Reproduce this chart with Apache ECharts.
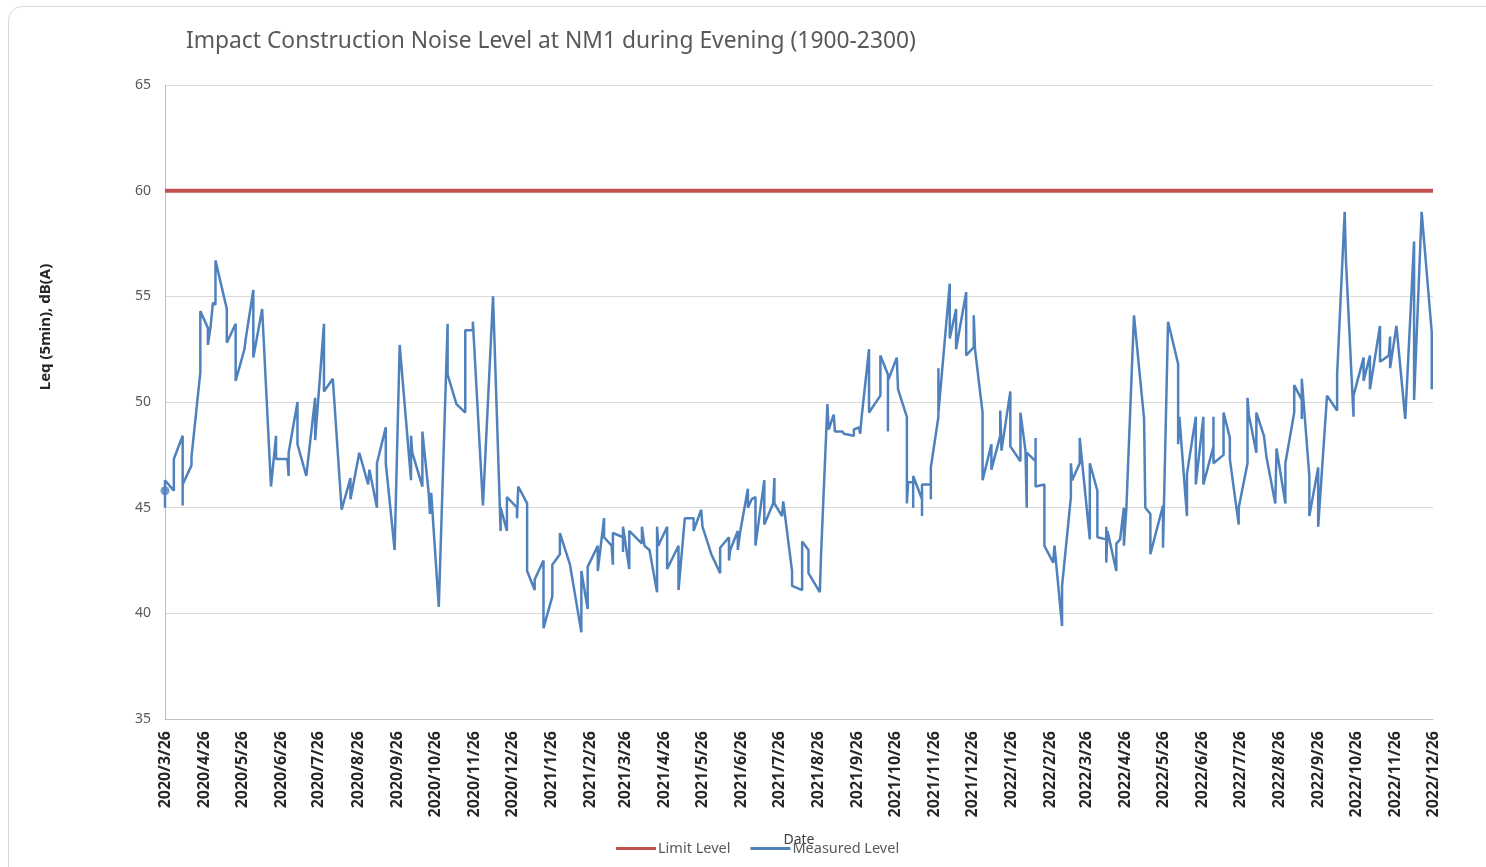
<!DOCTYPE html>
<html>
<head>
<meta charset="utf-8">
<script src="https://cdn.jsdelivr.net/npm/echarts@6/dist/echarts.min.js"></script>
<style>
  html, body { margin: 0; padding: 0; background: #fff; }
  #chart { width: 1486px; height: 867px; }
  #frame { position: absolute; left: 8px; top: 6px; width: 1500px; height: 900px;
           border: 1px solid #d9d9d9; border-radius: 14px; pointer-events: none; }
</style>
</head>
<body>
<div id="chart"></div>
<div id="frame"></div>
<script>
// start of monitoring, axis runs to 2022/12/26
var startDate = [2020, 3, 26];
var endDate = [2022, 12, 26];
var limitLevel = 60;
var days = [0,0,0,7,7,14,14,14,21,21,28,28,34,34,36,38,40,40,49,49,56,56,63,64,70,70,77,84,88,88,
  97,98,98,105,105,112,119,119,126,126,133,140,147,147,154,161,162,168,168,175,175,182,186,195,195,196,204,204,209,210,
  211,217,224,224,231,238,238,244,244,252,260,266,266,271,271,279,279,280,287,287,293,293,300,300,307,307,313,313,321,330,
  330,335,335,343,343,345,348,348,354,355,355,363,363,363,368,368,378,378,380,384,390,390,391,398,398,407,407,412,419,419,
  425,426,433,440,440,447,447,448,454,454,456,462,462,465,468,468,475,475,482,483,483,489,490,497,497,505,505,510,510,519,
  520,525,526,530,531,537,538,546,546,550,551,552,558,558,567,567,573,573,573,580,581,588,588,589,593,593,593,600,600,600,
  607,607,607,613,613,613,622,622,627,627,635,635,641,641,642,648,648,655,655,662,662,663,670,670,678,678,682,683,683,690,
  690,690,697,697,704,705,711,711,718,718,719,725,725,733,733,739,739,746,746,746,747,754,754,757,760,760,762,768,776,777,
  781,781,791,791,795,803,803,804,810,810,817,817,823,823,831,831,831,839,839,844,844,851,851,858,858,859,865,865,871,873,
  880,881,888,888,895,895,901,901,901,907,907,914,914,921,929,929,935,936,942,942,950,950,955,955,963,963,970,971,971,976,
  983,990,990,996,1004,1004];
var levels = [45.8,45.0,46.3,45.8,47.3,48.4,45.1,46.1,47.0,47.4,51.4,54.3,53.5,52.7,53.5,54.7,54.6,56.7,54.4,52.8,53.7,51.0,52.5,53.0,55.3,52.1,54.4,46.0,48.4,47.3,
  47.3,46.5,47.6,50.0,48.0,46.5,50.2,48.2,53.7,50.5,51.1,44.9,46.4,45.4,47.6,46.1,46.8,45.0,47.1,48.8,47.1,43.0,52.7,46.3,48.4,47.6,46.0,48.6,45.7,44.7,
  45.7,40.3,53.7,51.3,49.9,49.5,53.4,53.4,53.8,45.1,55.0,43.9,45.0,43.9,45.5,45.0,44.5,46.0,45.2,42.0,41.1,41.6,42.5,39.3,40.8,42.3,42.8,43.8,42.3,39.1,
  42.0,40.2,42.2,43.2,42.0,43.0,44.5,43.6,43.2,42.3,43.8,43.6,42.9,44.1,42.1,43.9,43.3,44.1,43.2,43.0,41.0,44.1,43.2,44.1,42.1,43.2,41.1,44.5,44.5,43.9,
  44.9,44.1,42.8,41.9,43.1,43.6,42.5,43.0,43.9,43.0,43.9,45.9,45.0,45.4,45.5,43.2,46.3,44.2,45.2,46.4,45.2,44.6,45.3,42.0,41.3,41.1,43.4,43.0,41.9,41.0,
  42.8,49.9,48.7,49.4,48.6,48.6,48.5,48.4,48.7,48.8,48.5,49.2,52.5,49.5,50.3,52.2,51.3,48.6,51.0,52.1,50.6,49.3,45.2,46.2,46.2,45.0,46.5,45.4,44.6,46.1,
  46.1,45.4,46.9,49.3,51.6,49.5,55.6,53.0,54.4,52.5,55.2,52.2,52.6,54.1,52.5,49.5,46.3,48.0,46.8,48.4,49.6,47.7,50.5,47.9,47.2,49.5,47.7,45.0,47.6,47.2,
  48.3,46.0,46.1,43.2,42.4,43.2,39.4,41.3,45.5,47.1,46.3,47.1,48.3,43.5,47.1,45.8,43.6,43.5,44.1,42.4,43.9,42.0,43.3,43.5,45.0,43.2,45.0,54.1,49.2,45.0,
  44.7,42.8,45.1,43.1,53.8,51.8,48.0,49.3,44.6,46.6,49.3,46.1,49.3,46.1,47.9,49.3,47.1,47.5,49.5,48.3,47.3,44.2,45.0,47.1,50.2,49.4,47.6,49.5,48.4,47.4,
  45.2,47.8,45.2,47.1,49.5,50.8,50.1,49.2,51.1,46.5,44.6,46.9,44.1,50.3,49.6,51.3,59.0,56.7,49.3,50.3,52.1,51.0,52.2,50.6,53.6,51.9,52.2,53.1,51.6,53.6,
  49.2,57.6,50.1,59.0,53.3,50.6];

var DAY = 86400000;
var t0 = Date.UTC(startDate[0], startDate[1] - 1, startDate[2]);
var t1 = Date.UTC(endDate[0], endDate[1] - 1, endDate[2]);

// month ticks on the 26th
var monthTicks = [];
for (var y = startDate[0], m = startDate[1]; y < endDate[0] || (y === endDate[0] && m <= endDate[1]); m++) {
    if (m > 12) { m = 1; y++; }
    monthTicks.push(Date.UTC(y, m - 1, 26));
    if (y === endDate[0] && m === endDate[1]) break;
}

var measured = days.map(function (d, i) { return [t0 + d * DAY, levels[i]]; });

var myChart = echarts.init(document.getElementById('chart'));
var option = {
    animation: false,
    textStyle: { fontFamily: 'Noto Sans, Liberation Sans, sans-serif' },
    title: {
        text: 'Impact Construction Noise Level at NM1 during Evening (1900-2300)',
        left: 181, top: 25,
        textStyle: { fontSize: 22.8, fontWeight: 'normal', color: '#595959' }
    },
    legend: {
        data: ['Limit Level', 'Measured Level'],
        left: 611, top: 836,
        icon: 'rect', itemWidth: 40, itemHeight: 3, itemGap: 20,
        textStyle: { fontSize: 14.5, color: '#595959', padding: [0, 0, 0, -3] }
    },
    grid: { left: 165, right: 53, top: 85, bottom: 148 },
    xAxis: {
        type: 'value',
        min: t0, max: t1,
        name: 'Date',
        nameLocation: 'middle', nameGap: 114,
        nameTextStyle: { fontSize: 14, color: '#404040' },
        axisLine: { lineStyle: { color: '#bfbfbf' } },
        axisTick: { show: false },
        splitLine: { show: false },
        axisLabel: {
            customValues: monthTicks,
            rotate: 90,
            margin: 12,
            fontSize: 16,
            fontWeight: 'bold',
            color: '#262626',
            formatter: function (v) {
                var d = new Date(v);
                return d.getUTCFullYear() + '/' + (d.getUTCMonth() + 1) + '/' + d.getUTCDate();
            }
        }
    },
    yAxis: {
        type: 'value',
        min: 35, max: 65, interval: 5,
        axisLine: { show: true, lineStyle: { color: '#bfbfbf' } },
        axisTick: { show: false },
        axisLabel: { fontSize: 14, color: '#595959', margin: 14 },
        splitLine: { lineStyle: { color: '#d9d9d9' } }
    },
    graphic: [{
        type: 'text', x: 46, y: 327, rotation: Math.PI / 2,
        style: {
            text: 'Leq (5min), dB(A)', fontSize: 15, fontWeight: 'bold',
            fill: '#262626', align: 'center', verticalAlign: 'middle',
            fontFamily: 'Noto Sans, Liberation Sans, sans-serif'
        }
    }],
    series: [
        {
            name: 'Limit Level',
            type: 'line',
            data: [[t0, limitLevel], [t1, limitLevel]],
            symbol: 'none',
            lineStyle: { color: '#c0504d', width: 4 },
            itemStyle: { color: '#c0504d' }
        },
        {
            name: 'Measured Level',
            type: 'line',
            data: measured,
            symbol: 'none',
            lineStyle: { color: '#4f81bd', width: 2.5 },
            itemStyle: { color: '#4f81bd' }
        },
        {
            name: 'first',
            type: 'scatter',
            data: [measured[0]],
            symbolSize: 9,
            itemStyle: { color: '#4f81bd' }
        }
    ]
};
myChart.setOption(option);
</script>
</body>
</html>
